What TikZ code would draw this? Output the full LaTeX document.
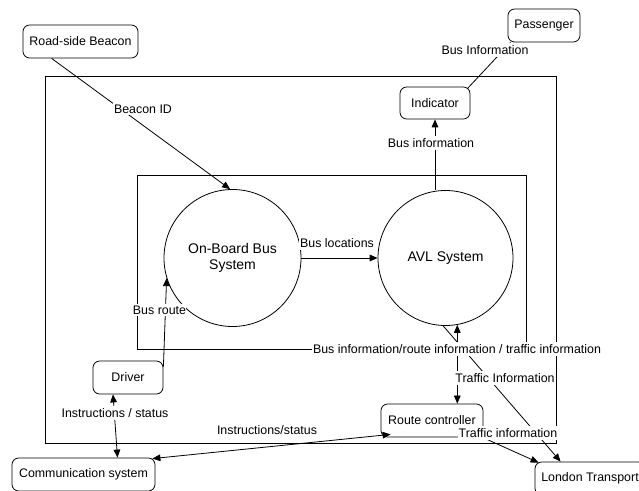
\documentclass[tikz,border=0pt]{standalone}
\usepackage{fontspec}
\setmainfont{Liberation Sans}
\usetikzlibrary{arrows.meta,calc}
\newlength\unitpx
\setlength\unitpx{0.75pt}

\begin{document}
\begin{tikzpicture}[x=0.75pt,y=-0.75pt,
  line width=0.6pt,
  >={Triangle[length=6pt,width=5pt]},
  ext/.style={draw, rounded corners=5pt, font=\fontsize{9.3}{11}\selectfont,
    inner sep=0pt, minimum height=33\unitpx},
  proc/.style={draw, circle, inner sep=0pt, font=\fontsize{10.5}{12.5}\selectfont,
    align=center},
  lbl/.style={fill=white, font=\fontsize{9.3}{11}\selectfont,
    inner xsep=0.5pt, inner ysep=1.5pt},
]
\useasboundingbox (0,0) rectangle (639,491);
\clip (0,0) rectangle (639,491);

% system boundaries
\draw (45,76) rectangle (556,443);
\draw (137,175) rectangle (526,349);

% processes
\node[proc, minimum size=137\unitpx] (obb) at (232.5,258) {On-Board Bus\\System};
\node[proc, minimum size=135\unitpx] (avl) at (445.5,258) {AVL System};

% external entities
\node[ext, minimum width=115\unitpx] (rsb) at (80.5,41.5) {Road-side Beacon};
\node[ext, minimum width=72\unitpx] (pass) at (544,25.5) {Passenger};
\node[ext, minimum width=70\unitpx, minimum height=32\unitpx] (ind) at (435,103) {Indicator};
\node[ext, minimum width=70\unitpx] (drv) at (128,377.5) {Driver};
\node[ext, minimum width=102\unitpx] (rc) at (432,420.5) {Route controller};
\node[ext, minimum width=143\unitpx] (cs) at (83.5,474.5) {Communication system};
\node[ext, minimum width=110\unitpx] (lt) at (590,478.5) {London Transport};

% data flows
\draw[->] ($(rsb.south west)+(29,0)$) -- (obb.92);
\draw[->] (obb.east) -- (avl.west);
\draw[->] (avl.north -| ind.south) -- (ind.south);
\draw ($(ind.north east)+(-3,2)$) -- ($(pass.south west)+(3,0)$);
\draw[<->] (avl.280) -- (avl.280 |- rc.north);
\draw[->] (avl.268) -- ($(lt.north west)+(26,0)$);
\draw[->] ($(rc.south east)+(-12,-5)$) -- ($(lt.north west)+(4,1)$);
\draw[<->] ($(cs.north east)+(-3,1)$) -- ($(rc.south west)+(10,-3)$);
\draw[<->] ($(cs.north)+(34,0)$) -- ($(drv.south)+(-15,0)$);
\draw[->] ($(drv.north east)+(0,6)$) -- (obb.197);

% flow labels
\node[lbl] (l1) at (143,109) {Beacon ID};
\node[lbl] (l2) at (337,243) {Bus locations};
\node[lbl] (l3) at (431,143) {Bus information};
\node[lbl] (l4) at (485,50) {Bus Information};
\node[lbl, inner xsep=0pt] (l5) at (159.5,310) {Bus route};
\node[lbl] (l6) at (457,349) {Bus information/route information / traffic information};
\node[lbl] (l7) at (505,378) {Traffic Information};
\node[lbl] (l8) at (508,433) {Traffic information};
\node[lbl] (l9) at (115,413) {Instructions / status};
\node[lbl] (l10) at (267,430) {Instructions/status};
\end{tikzpicture}
\end{document}
